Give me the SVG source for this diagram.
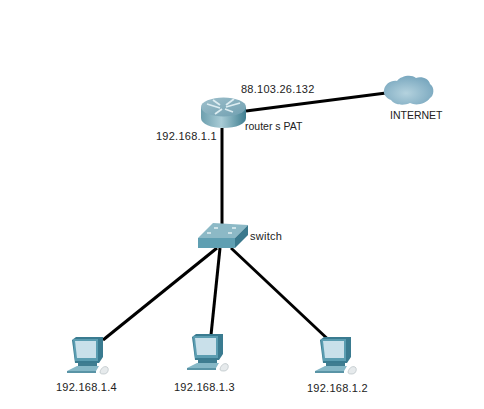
<svg xmlns="http://www.w3.org/2000/svg" width="484" height="409" viewBox="0 0 484 409">
<style>
text{font-family:"Liberation Sans",Arial,sans-serif;font-size:11px;fill:#222;letter-spacing:.25px}
.tight{font-size:10.500px;letter-spacing:0}
.link{stroke:#000;stroke-width:3;fill:none}
</style>
<defs>
<linearGradient id="rs" x1="0" x2="1" y1="0" y2="0"><stop offset="0" stop-color="#6d9fae"/><stop offset=".45" stop-color="#a9ccd6"/><stop offset="1" stop-color="#3f7e90"/></linearGradient>
<linearGradient id="rt" x1="0" x2="1" y1="0" y2="1"><stop offset="0" stop-color="#9fc0cc"/><stop offset="1" stop-color="#6f9fb0"/></linearGradient>
<radialGradient id="cl" cx=".45" cy=".6" r=".6"><stop offset="0" stop-color="#b4d2de"/><stop offset="1" stop-color="#7aa8bf"/></radialGradient>
<g id="pc">
<path d="M0 3 4 0H31V20L27 26H3Z" fill="#3a7b90"/>
<path d="M1 2H26V24H3Z" fill="#5b9db1"/>
<path d="M3 4H24V21H5Z" fill="#c9e0ea"/>
<path d="M6 26H25V29H6Z" fill="#3f7d91"/>
<path d="M5 29H27L24 34H-5Z" fill="#86b8c7"/>
<path d="M-5 34H24V36H-5Z" fill="#5a94a6"/>
<path d="M28 35c1-5 6-7 8-4 1 3-1 6-4 6-2 0-4 0-4-2Z" fill="#e6eaec" stroke="#aeb8bc" stroke-width=".6"/>
</g>
</defs>
<rect width="484" height="409" fill="#fff"/>
<g id="connectors">
<path class="link" d="M246 111 386 93"/>
<path class="link" d="M222 128V226"/>
<path class="link" d="M217 248 103 340"/>
<path class="link" d="M220 248 211 335"/>
<path class="link" d="M231 248 333 344"/>
</g>
<g id="router">
<path d="M201 107V118C201 124 211 128 223.500 128S246 124 246 118V107Z" fill="url(#rs)"/>
<ellipse cx="223.500" cy="107" rx="22.500" ry="9.500" fill="url(#rt)"/>
<path d="M207 104 220 108M215 114 222 109M240 103 226 107M233 112 225 109M213 100 220 105M234 99 226 105" stroke="#dcecf1" stroke-width="1.800" fill="none"/>
<text class="tight" x="245" y="130">router s PAT</text>
<text x="156" y="140">192.168.1.1</text>
<text x="241" y="93">88.103.26.132</text>
</g>
<g id="internet">
<path d="M384 90C385 84 391 80 397 81 401 76 411 74 416 78 422 76 429 79 430 84 435 87 434 96 430 98 426 104 416 106 410 103 404 106 394 105 391 100 386 98 383 94 384 90Z" fill="url(#cl)"/>
<text class="tight" x="390" y="119">INTERNET</text>
</g>
<g id="switch">
<path d="M198 238 213 223 248 225 235 238Z" fill="#8cb9c6"/>
<path d="M198 238H235V248H198Z" fill="#5f9fb2"/>
<path d="M235 238 248 225V235L235 248Z" fill="#39788c"/>
<path d="M214 228h4M232 228h4M207 233h4M228 233h4" stroke="#e4f1f4" stroke-width="1.400"/>
<text x="250" y="240">switch</text>
</g>
<g id="pc4">
<use href="#pc" x="72" y="337"/>
<text x="56" y="391">192.168.1.4</text>
</g>
<g id="pc3">
<use href="#pc" x="192" y="334"/>
<text x="174" y="391">192.168.1.3</text>
</g>
<g id="pc2">
<use href="#pc" x="320" y="337"/>
<text x="307" y="392">192.168.1.2</text>
</g>
</svg>
